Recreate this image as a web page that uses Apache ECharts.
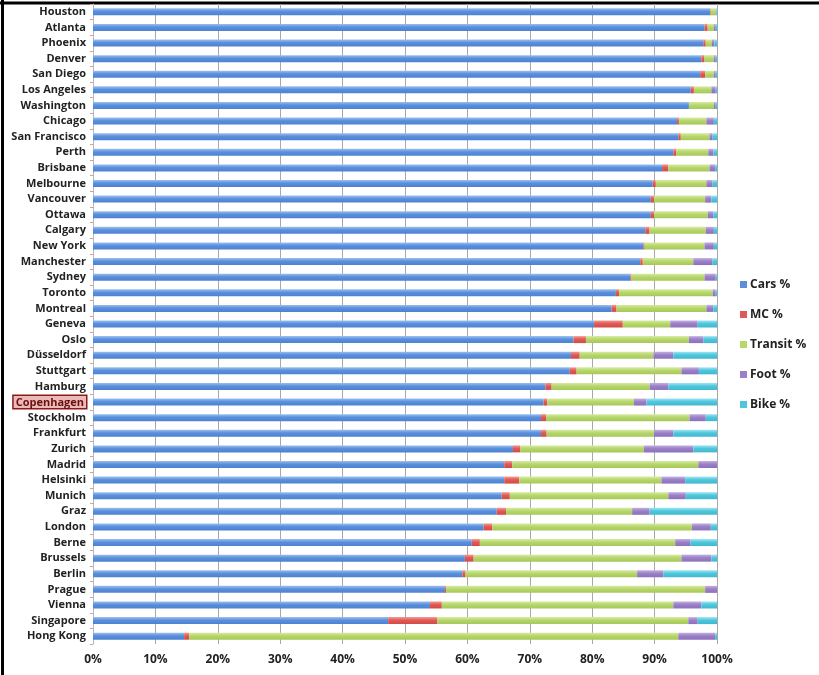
<!DOCTYPE html>
<html>
<head>
<meta charset="utf-8">
<script src="https://cdn.jsdelivr.net/npm/echarts@6/dist/echarts.min.js"></script>
<style>
html,body{margin:0;padding:0;background:#fff;}
#chart{width:819px;height:675px;}
</style>
</head>
<body>
<div id="chart"></div>
<script>
const cities = ["Houston","Atlanta","Phoenix","Denver","San Diego","Los Angeles","Washington","Chicago","San Francisco","Perth","Brisbane","Melbourne","Vancouver","Ottawa","Calgary","New York","Manchester","Sydney","Toronto","Montreal","Geneva","Oslo","Düsseldorf","Stuttgart","Hamburg","Copenhagen","Stockholm","Frankfurt","Zurich","Madrid","Helsinki","Munich","Graz","London","Berne","Brussels","Berlin","Prague","Vienna","Singapore","Hong Kong"];
const carsPct    = [98.9,98.0,97.8,97.5,97.3,95.8,95.5,93.6,93.8,93.0,91.2,89.7,89.4,89.4,88.5,88.2,87.7,86.1,83.8,83.1,80.3,77.0,76.6,76.4,72.5,72.2,71.8,71.8,67.3,65.9,65.9,65.5,64.7,62.6,60.7,59.6,59.2,56.4,54.0,47.3,14.6];
const mcPct      = [0.1,0.5,0.4,0.5,0.8,0.5,0.0,0.3,0.4,0.5,1.0,0.5,0.5,0.5,0.7,0.2,0.4,0.2,0.5,0.8,4.6,2.0,1.4,1.1,1.0,0.6,0.8,0.9,1.2,1.3,2.4,1.3,1.5,1.4,1.3,1.4,0.5,0.2,1.9,7.9,0.8];
const transitPct = [0.8,1.0,1.0,1.5,1.4,2.8,4.0,4.4,4.6,5.1,6.6,8.1,8.2,8.6,9.0,9.6,8.1,11.7,15.0,14.4,7.6,16.5,11.8,16.8,15.7,13.9,23.0,17.2,19.8,29.8,22.8,25.4,20.2,32.0,31.3,33.3,27.5,41.5,37.1,40.2,78.4];
const footPct    = [0.1,0.3,0.4,0.3,0.3,0.7,0.3,1.2,0.5,0.8,0.9,1.0,1.0,0.9,1.3,1.5,3.1,1.8,0.5,1.1,4.4,2.3,3.2,2.8,3.0,2.0,2.6,3.1,7.9,3.0,3.8,2.8,2.8,3.0,2.4,4.8,4.2,1.9,4.5,1.5,5.9];
const bikePct    = [0.1,0.2,0.4,0.2,0.2,0.2,0.2,0.5,0.7,0.6,0.3,0.7,0.9,0.6,0.5,0.5,0.7,0.2,0.2,0.6,3.1,2.2,7.0,2.9,7.8,11.3,1.8,7.0,3.8,0.0,5.1,5.0,10.8,1.0,4.3,0.9,8.6,0.0,2.5,3.1,0.3];
const seriesNames = ["Cars %","MC %","Transit %","Foot %","Bike %"];
const xTicks = [0,10,20,30,40,50,60,70,80,90,100];

function grad(top, mid, bot){
  return new echarts.graphic.LinearGradient(0,0,0,1,[
    {offset:0,color:top},{offset:0.45,color:mid},{offset:1,color:bot}]);
}
const colors = [
  grad('#9cc0f0','#5a8fdc','#4d82d0'),
  grad('#f29a95','#e05a55','#d24a46'),
  grad('#d6eca0','#b7d66c','#a6c85a'),
  grad('#c3b0e0','#9b80c8','#8c70bb'),
  grad('#9ee6f2','#4fc6dc','#40b8cf')
];
const legendColors = ['#5a8fdc','#e05a55','#b7d66c','#9b80c8','#4fc6dc'];
const dataSets = [carsPct, mcPct, transitPct, footPct, bikePct];

const chart = echarts.init(document.getElementById('chart'));
const fontFam = '"Open Sans", Lato, sans-serif';
chart.setOption({
  animation:false,
  backgroundColor:'#fff',
  color: legendColors,
  graphic:[
    {type:'line',shape:{x1:0,y1:3,x2:819,y2:3},style:{stroke:'#000',lineWidth:3}},
    {type:'line',shape:{x1:2.5,y1:0,x2:2.5,y2:675},style:{stroke:'#000',lineWidth:3}}
  ],
  grid:{left:93,right:102,top:4,bottom:31,containLabel:false},
  legend:{
    orient:'vertical', left:735, top:271,
    itemWidth:7, itemHeight:7, itemGap:13, icon:'rect',
    textStyle:{fontFamily:fontFam,fontWeight:'bold',fontSize:12,color:'#222',padding:[0,0,0,-2],lineHeight:17},
    data: seriesNames.map((n,i)=>({name:n,itemStyle:{color:legendColors[i]}}))
  },
  xAxis:{
    type:'value', min:0, max:100, interval:10,
    axisLabel:{formatter:'{value}%',fontFamily:fontFam,fontWeight:'bold',fontSize:12,color:'#222',margin:10},
    axisLine:{show:false},
    axisTick:{show:false},
    splitLine:{show:true,lineStyle:{color:'#a8a8a8',width:1}}
  },
  yAxis:{
    type:'category', inverse:true, data:cities,
    axisLine:{show:true,lineStyle:{color:'#b8b8b8'}},
    axisTick:{show:true,length:3,lineStyle:{color:'#d0a0a0'}},
    splitLine:{show:false},
    axisLabel:{
      fontFamily:fontFam,fontWeight:'bold',fontSize:11,color:'#222',margin:7,interval:0,
      formatter:function(v){ return v==='Copenhagen' ? '{hl|'+v+'}' : v; },
      rich:{
        hl:{fontFamily:fontFam,fontWeight:'bold',fontSize:11,color:'#6a1010',
            backgroundColor:'#ecb8b8',borderColor:'#8b1a1a',borderWidth:1.5,padding:[1,2,0,2]}
      }
    }
  },
  series: seriesNames.map((n,i)=>({
    name:n, type:'bar', stack:'total', barWidth:7,
    itemStyle:{color:colors[i]},
    data:dataSets[i]
  }))
});
</script>
</body>
</html>
